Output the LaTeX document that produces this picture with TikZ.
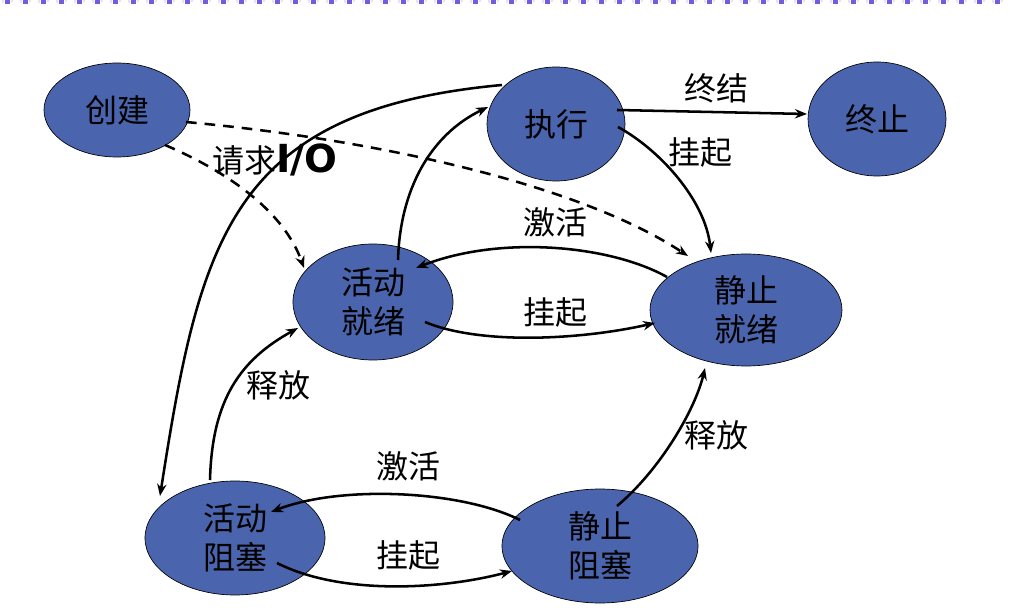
\documentclass[tikz,border=0pt]{standalone}
\usepackage{fontspec}
\newfontfamily\cjk{Noto Sans CJK SC}
\newfontfamily\iofont{DejaVu Sans}
\usetikzlibrary{shapes.geometric,arrows.meta}
\definecolor{stateblue}{HTML}{4A65AD}
\definecolor{stripdark}{HTML}{6E5FE0}
\definecolor{striplight}{HTML}{E6E2FA}
\begin{document}
\begin{tikzpicture}[x=0.75pt,y=-0.75pt,
  state/.style={ellipse, draw=black, line width=0.5pt, fill=stateblue, inner sep=0pt, align=center,
     font=\cjk\fontsize{24}{29}\selectfont},
  lbl/.style={font=\cjk\fontsize{24}{29}\selectfont, inner sep=0pt},
  conn/.style={line width=1.9pt, -{Stealth[length=9pt,width=7pt]}},
  dconn/.style={conn, dash pattern=on 8pt off 6pt}]
\useasboundingbox (0,0) rectangle (1010,616);
% top decorative strip
\foreach \k in {0,...,55}{
  \fill[striplight] (2+18*\k,0) rectangle (4+18*\k,3);
  \fill[stripdark] (5+18*\k,0) rectangle (10+18*\k,4);
  \fill[striplight] (11+18*\k,0) rectangle (13+18*\k,2);
}
% states
\node[state, minimum width=109.5pt, minimum height=70.5pt] (create) at (117,110) {创建};
\node[state, minimum width=103.5pt, minimum height=85.5pt] (exec) at (556,124) {执行};
\node[state, minimum width=103.5pt, minimum height=85.5pt] (term) at (877,119) {终止};
\node[state, minimum width=120pt, minimum height=87pt] (ar) at (373,302) {活动\\就绪};
\node[state, minimum width=144pt, minimum height=84pt] (sr) at (746,310) {静止\\就绪};
\node[state, minimum width=135pt, minimum height=85.5pt] (ab) at (235,538) {活动\\阻塞};
\node[state, minimum width=147pt, minimum height=85.5pt] (sb) at (600,546) {静止\\阻塞};
% dashed connectors
\draw[dconn] ([shift={(69,12)}]create.center) .. controls (380,140) and (580,185) .. ([shift={(-58,-54)}]sr.center);
\draw[dconn] ([shift={(48,35)}]create.center) .. controls (235,175) and (285,215) .. ([shift={(-69,-34)}]ar.center);
% solid connectors
\draw[conn] ([shift={(-54,-39)}]exec.center) .. controls (230,110) and (200,240) .. ([shift={(-75,-42)}]ab.center);
\draw[conn] ([shift={(-25,-58)}]ab.center) .. controls (212,400) and (240,360) .. ([shift={(-75,26)}]ar.center);
\draw[conn] ([shift={(25,-42)}]ar.center) .. controls (400,190) and (430,135) .. ([shift={(-68,-17)}]exec.center);
\draw[conn] ([shift={(61,-14)}]exec.center) -- ([shift={(-70,-5)}]term.center);
\draw[conn] ([shift={(62,3)}]exec.center) .. controls (660,150) and (705,200) .. ([shift={(-35,-57)}]sr.center);
\draw[conn] ([shift={(-79,-33)}]sr.center) .. controls (610,245) and (500,235) .. ([shift={(43,-34)}]ar.center);
\draw[conn] ([shift={(52,20)}]ar.center) .. controls (480,345) and (580,340) .. ([shift={(-91,13)}]sr.center);
\draw[conn] ([shift={(17,-40)}]sb.center) .. controls (660,470) and (695,410) .. ([shift={(-41,58)}]sr.center);
\draw[conn] ([shift={(-80,-26)}]sb.center) .. controls (460,490) and (340,485) .. ([shift={(36,-26)}]ab.center);
\draw[conn] ([shift={(42,25)}]ab.center) .. controls (340,595) and (440,590) .. ([shift={(-88,25)}]sb.center);
% labels
\node[lbl] (l1) at (716,88) {终结};
\node[lbl] (l2) at (700,152) {挂起};
\node[lbl] (l3) at (555,222) {激活};
\node[lbl] (l4) at (555,312) {挂起};
\node[lbl] (l5) at (278,385) {释放};
\node[lbl] (l6) at (716,435) {释放};
\node[lbl] (l7) at (408,466) {激活};
\node[lbl] (l8) at (408,555) {挂起};
\node[lbl, anchor=west] (l9) at (212,160) {请求{\iofont\bfseries\fontsize{29}{32}\selectfont I/O}};
\end{tikzpicture}
\end{document}
